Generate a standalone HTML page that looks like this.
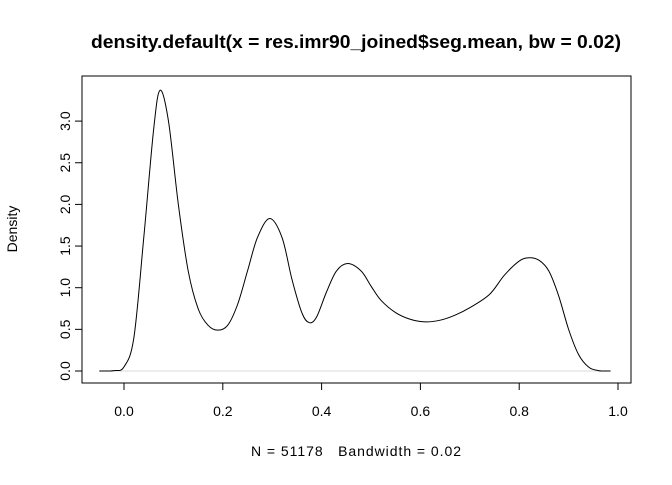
<!DOCTYPE html>
<html><head><meta charset="utf-8"><style>
body{margin:0;background:#fff}
svg text{font-family:"Liberation Sans",Arial,sans-serif;fill:#000}
</style></head><body>
<svg width="672" height="480" xmlns="http://www.w3.org/2000/svg">
<rect width="672" height="480" fill="#fff"/>
<text x="356" y="48" text-anchor="middle" font-size="18" font-weight="bold" textLength="530" lengthAdjust="spacingAndGlyphs">density.default(x = res.imr90_joined$seg.mean, bw = 0.02)</text>
<rect x="82" y="76" width="549" height="307" fill="none" stroke="#000"/>
<text x="356" y="456" text-anchor="middle" font-size="14" style="white-space:pre" xml:space="preserve" textLength="210" lengthAdjust="spacing">N = 51178   Bandwidth = 0.02</text>
<text transform="translate(17,229) rotate(-90)" text-anchor="middle" font-size="14">Density</text>
<g id="xaxis"></g>
<g id="yaxis"></g>
<line id="zero" stroke="#d8d8d8"/>
<path id="curve" fill="none" stroke="#000" stroke-width="1"/>
</svg>
<script>
const xs=[-0.05,-0.02,0.0,0.02,0.04,0.06,0.073,0.09,0.11,0.13,0.15,0.17,0.19,0.21,0.23,0.25,0.27,0.295,0.32,0.34,0.36,0.375,0.39,0.41,0.43,0.453,0.48,0.50,0.52,0.55,0.58,0.61,0.64,0.67,0.70,0.74,0.77,0.80,0.82,0.84,0.86,0.88,0.90,0.92,0.94,0.96,0.985];
const ys=[0,0.005,0.05,0.4,1.6,2.9,3.37,3.0,2.0,1.2,0.75,0.55,0.49,0.55,0.8,1.2,1.6,1.83,1.6,1.1,0.7,0.58,0.65,0.95,1.2,1.29,1.2,1.02,0.85,0.7,0.62,0.59,0.61,0.67,0.76,0.92,1.15,1.32,1.36,1.33,1.2,0.9,0.5,0.2,0.05,0.005,0];
const xTicks=[0.0,0.2,0.4,0.6,0.8,1.0];
const yTicks=[0.0,0.5,1.0,1.5,2.0,2.5,3.0];
const NS="http://www.w3.org/2000/svg";
const sx=v=>124+v*494, sy=v=>371-v*83.3;
const xa=document.getElementById('xaxis'), ya=document.getElementById('yaxis');
function mk(t,a,p){const e=document.createElementNS(NS,t);for(const k in a)e.setAttribute(k,a[k]);p.appendChild(e);return e;}
mk('line',{x1:sx(xTicks[0]),x2:sx(xTicks[xTicks.length-1]),y1:383,y2:383,stroke:'#000'},xa);
xTicks.forEach(v=>{const l=mk('line',{x1:sx(v),x2:sx(v),y1:383,y2:390,stroke:'#000'},xa);


const t=mk('text',{x:sx(v),y:416,'text-anchor':'middle','font-size':'14'},xa);t.textContent=v.toFixed(1);

});
mk('line',{x1:82,x2:82,y1:sy(yTicks[0]),y2:sy(yTicks[yTicks.length-1]),stroke:'#000'},ya);
yTicks.forEach(v=>{const l=mk('line',{x1:75,x2:82,y1:sy(v),y2:sy(v),stroke:'#000'},ya);


const t=mk('text',{transform:`translate(70,${sy(v)}) rotate(-90)`,'text-anchor':'middle','font-size':'14'},ya);t.textContent=v.toFixed(1);

});
const z=document.getElementById('zero');
z.setAttribute('x1',sx(xs[0]));z.setAttribute('x2',sx(xs[xs.length-1]));z.setAttribute('y1',sy(0));z.setAttribute('y2',sy(0));
const P=xs.map((x,i)=>[sx(x),sy(ys[i])]);
let d=`M${P[0][0]},${P[0][1]}`;
for(let i=0;i<P.length-1;i++){const p0=P[Math.max(0,i-1)],p1=P[i],p2=P[i+1],p3=P[Math.min(P.length-1,i+2)];
d+=` C${p1[0]+(p2[0]-p0[0])/6},${p1[1]+(p2[1]-p0[1])/6} ${p2[0]-(p3[0]-p1[0])/6},${p2[1]-(p3[1]-p1[1])/6} ${p2[0]},${p2[1]}`;}
document.getElementById('curve').setAttribute('d',d);
</script>
</body></html>
